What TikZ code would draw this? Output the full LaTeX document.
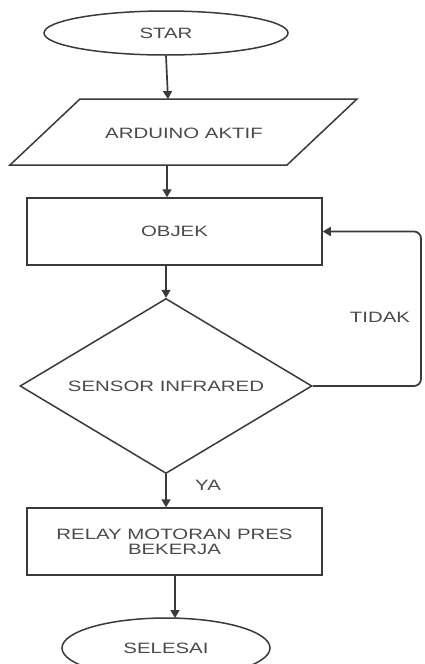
\documentclass[tikz,border=0pt]{standalone}
\usepackage{fontspec}
\setmainfont{Liberation Sans}[FakeStretch=1.36]
\usetikzlibrary{shapes.geometric,arrows.meta}
\definecolor{linec}{HTML}{3A3A3A}
\definecolor{textc}{HTML}{4A4A4A}
\tikzset{
  every node/.style={font=\fontsize{15}{15}\selectfont, text=textc, align=center},
  outline/.style={draw=linec, line width=1.5pt},
  flow/.style={draw=linec, line width=1.7pt, -{Triangle[length=8pt,width=9pt]}},
  termbox/.style={outline, ellipse, inner sep=0pt},
  procbox/.style={outline, rectangle, inner sep=0pt, minimum width=295pt, minimum height=67pt},
  decbox/.style={outline, diamond, inner sep=0pt, aspect=1.67, minimum width=292pt, minimum height=175pt},
  lbl/.style={inner sep=0pt}
}
\begin{document}
\begin{tikzpicture}[x=1pt,y=-1pt]
\useasboundingbox (0,0) rectangle (424,664);
\clip (0,0) rectangle (424,664);
\fill[white] (0,0) rectangle (424,664);
% start
\node[termbox, minimum width=244pt, minimum height=44pt] (star) at (166,33) {STAR};
% input parallelogram
\draw[outline] (80,99) -- (357,99) -- (287,165) -- (10,165) -- cycle;
\node[lbl] (ard) at (184,133) {ARDUINO AKTIF};
\coordinate (ardtop) at (168,99);
\coordinate (ardbot) at (167,165);
% objek
\node[procbox] (obj) at (174.5,231.5) {OBJEK};
% decision
\node[decbox] (sen) at (166,386) {SENSOR INFRARED};
% relay
\node[procbox] (rel) at (174.5,541.5) {RELAY MOTORAN PRES\\BEKERJA};
% end
\node[termbox, minimum width=208pt, minimum height=60pt] (sel) at (166,648) {SELESAI};
% connectors
\draw[flow] (star.south) -- (ardtop);
\draw[flow] (ardbot) -- (ardbot |- obj.north);
\draw[flow] (obj.south -| sen.north) -- (sen.north);
\draw[flow] (sen.south) -- (sen.south |- rel.north);
\node[lbl] (ya) at (208,485) {YA};
\coordinate (relout) at (175,575);
\draw[flow] (relout) -- (175,618);
\coordinate (loopx) at (421,386);
\draw[flow, rounded corners=7pt] (sen.east) -- (loopx) -- (loopx |- obj.east) -- (obj.east);
\node[lbl] (tidak) at (380,317) {TIDAK};
\end{tikzpicture}
\end{document}
